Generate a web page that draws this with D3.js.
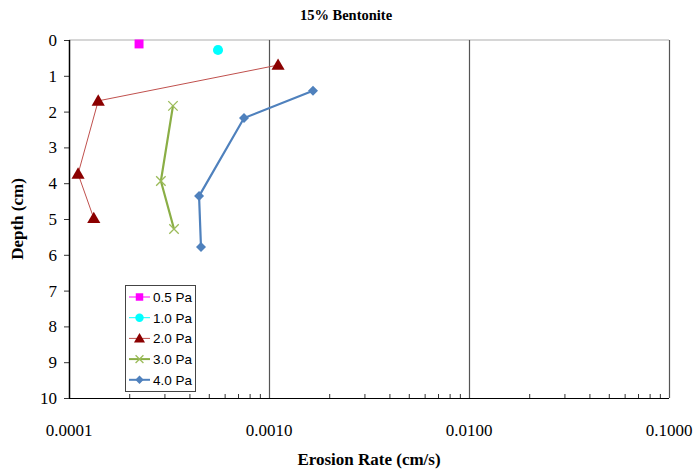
<!DOCTYPE html>
<html><head><meta charset="utf-8">
<script src="https://cdn.jsdelivr.net/npm/d3@7"></script>
<style>body{margin:0;background:#fff}svg{display:block}</style>
</head><body><svg id="c" width="697" height="470"></svg>
<script>
const title = "15% Bentonite";
const xTicks = [0.0001, 0.001, 0.01, 0.1];
const xTickLabels = ["0.0001", "0.0010", "0.0100", "0.1000"];
const yTicks = [0,1,2,3,4,5,6,7,8,9,10];
const seriesNames = ["0.5 Pa", "1.0 Pa", "2.0 Pa", "3.0 Pa", "4.0 Pa"];
const rate05 = [0.000224];
const depth05 = [0.11];
const rate10 = [0.000556];
const depth10 = [0.28];
const rate20 = [0.00111, 0.00014, 0.000111, 0.000133];
const depth20 = [0.70, 1.70, 3.74, 4.98];
const rate30 = [0.000331, 0.000288, 0.000335];
const depth30 = [1.84, 3.94, 5.28];
const rate40 = [0.00166, 0.00075, 0.000447, 0.000457];
const depth40 = [1.42, 2.18, 4.36, 5.78];

const series = [
  {name: seriesNames[0], rate: rate05, depth: depth05, color: "#FF00FF", line: "#FF00FF", lw: 1, sym: "square", size: 80},
  {name: seriesNames[1], rate: rate10, depth: depth10, color: "#00FFFF", line: "#00FFFF", lw: 1, sym: "circle", size: 80},
  {name: seriesNames[2], rate: rate20, depth: depth20, color: "#8B0000", line: "#C0504D", lw: 1, sym: "triangle", size: 75},
  {name: seriesNames[3], rate: rate30, depth: depth30, color: "#9BBB59", line: "#8AAE45", lw: 2.2, sym: "x", size: 60},
  {name: seriesNames[4], rate: rate40, depth: depth40, color: "#4F81BD", line: "#4F81BD", lw: 2.2, sym: "diamond", size: 50}
];

const svg = d3.select("#c");
const L = 69, R = 669, T = 40, B = 398;
const x = d3.scaleLog().domain([0.0001, 0.1]).range([L, R]);
const y = d3.scaleLinear().domain([0, 10]).range([T, B]);
const serif = "'Liberation Serif','Times New Roman',serif";
const sans = "'Liberation Sans',Arial,sans-serif";

// top light border
svg.append("line").attr("x1", L).attr("x2", R).attr("y1", T).attr("y2", T)
  .attr("stroke", "#c8c8c8").attr("stroke-width", 1.5);
// major vertical gridlines and right border
xTicks.slice(1).forEach(v => {
  svg.append("line").attr("x1", Math.round(x(v)) + 0.5).attr("x2", Math.round(x(v)) + 0.5)
    .attr("y1", T).attr("y2", B).attr("stroke", "#555").attr("stroke-width", 1.2);
});

// bottom axis with minor ticks
const minor = [];
for (let d = -4; d < -1; d++) for (let k = 2; k <= 9; k++) minor.push(k * Math.pow(10, d));
const xAxis = d3.axisBottom(x).tickValues(minor).tickSize(-4).tickFormat("");
const gx = svg.append("g").attr("transform", `translate(0,${B})`).call(xAxis);
gx.select(".domain").remove();
gx.selectAll("line").attr("stroke", "#333");
svg.append("line").attr("x1", L - 5).attr("x2", R).attr("y1", B + 0.5).attr("y2", B + 0.5).attr("stroke", "#000").attr("stroke-width", 1.2);

xTicks.forEach((v, i) => {
  svg.append("text").attr("x", x(v)).attr("y", 436).attr("text-anchor", "middle")
    .attr("font-family", serif).attr("font-size", 17).text(xTickLabels[i]);
});

// left axis
const yAxis = d3.axisLeft(y).tickValues(yTicks).tickSize(5).tickFormat("");
const gy = svg.append("g").attr("transform", `translate(${L},0)`).call(yAxis);
gy.select(".domain").remove();
gy.selectAll("line").attr("stroke", "#333");
svg.append("line").attr("x1", L + 0.5).attr("x2", L + 0.5).attr("y1", T).attr("y2", B).attr("stroke", "#000").attr("stroke-width", 1.5);
yTicks.forEach(v => {
  svg.append("text").attr("x", 57).attr("y", y(v) + 6).attr("text-anchor", "end")
    .attr("font-family", serif).attr("font-size", 17).text(v);
});

// titles
svg.append("text").attr("x", 346).attr("y", 20).attr("text-anchor", "middle")
  .attr("font-family", serif).attr("font-weight", "bold").attr("font-size", 14.5).text(title);
svg.append("text").attr("x", 369).attr("y", 465).attr("text-anchor", "middle")
  .attr("font-family", serif).attr("font-weight", "bold").attr("font-size", 17).text("Erosion Rate (cm/s)");
svg.append("text").attr("transform", "translate(23,219) rotate(-90)").attr("text-anchor", "middle")
  .attr("font-family", serif).attr("font-weight", "bold").attr("font-size", 17).text("Depth (cm)");

const symMap = {square: d3.symbolSquare, circle: d3.symbolCircle, triangle: d3.symbolTriangle, x: d3.symbolTimes, diamond: d3.symbolSquare};
function drawSym(g, s, cx, cy, scale) {
  const p = d3.symbol().type(symMap[s.sym]).size(s.size * (scale || 1));
  let tr = `translate(${cx},${cy})`;
  if (s.sym === "diamond") tr += " rotate(45)";
  if (s.sym === "triangle") tr = `translate(${cx},${cy + 1})`;
  const el = g.append("path").attr("d", p()).attr("transform", tr);
  if (s.sym === "x") el.attr("fill", "none").attr("stroke", s.color).attr("stroke-width", 1.3);
  else el.attr("fill", s.color);
}

const line = d3.line().x(d => x(d[0])).y(d => y(d[1]));
series.forEach(s => {
  const pts = s.rate.map((r, i) => [r, s.depth[i]]);
  if (pts.length > 1) {
    svg.append("path").attr("d", line(pts)).attr("fill", "none")
      .attr("stroke", s.line).attr("stroke-width", s.lw);
  }
  pts.forEach(p => drawSym(svg, s, x(p[0]), y(p[1])));
});

// legend
const lg = svg.append("g");
lg.append("rect").attr("x", 125.5).attr("y", 285.5).attr("width", 70).attr("height", 106)
  .attr("fill", "#fff").attr("stroke", "#444").attr("stroke-width", 1);
series.forEach((s, i) => {
  const cy = 297 + i * 20.7;
  lg.append("line").attr("x1", 129).attr("x2", 150).attr("y1", cy).attr("y2", cy)
    .attr("stroke", s.line).attr("stroke-width", s.lw > 1 ? 2 : 1);
  drawSym(lg, s, 139.5, cy, 0.7);
  lg.append("text").attr("x", 153).attr("y", cy + 5).attr("font-family", sans)
    .attr("font-size", 13.5).attr("fill", "#000").text(s.name);
});
</script></body></html>
